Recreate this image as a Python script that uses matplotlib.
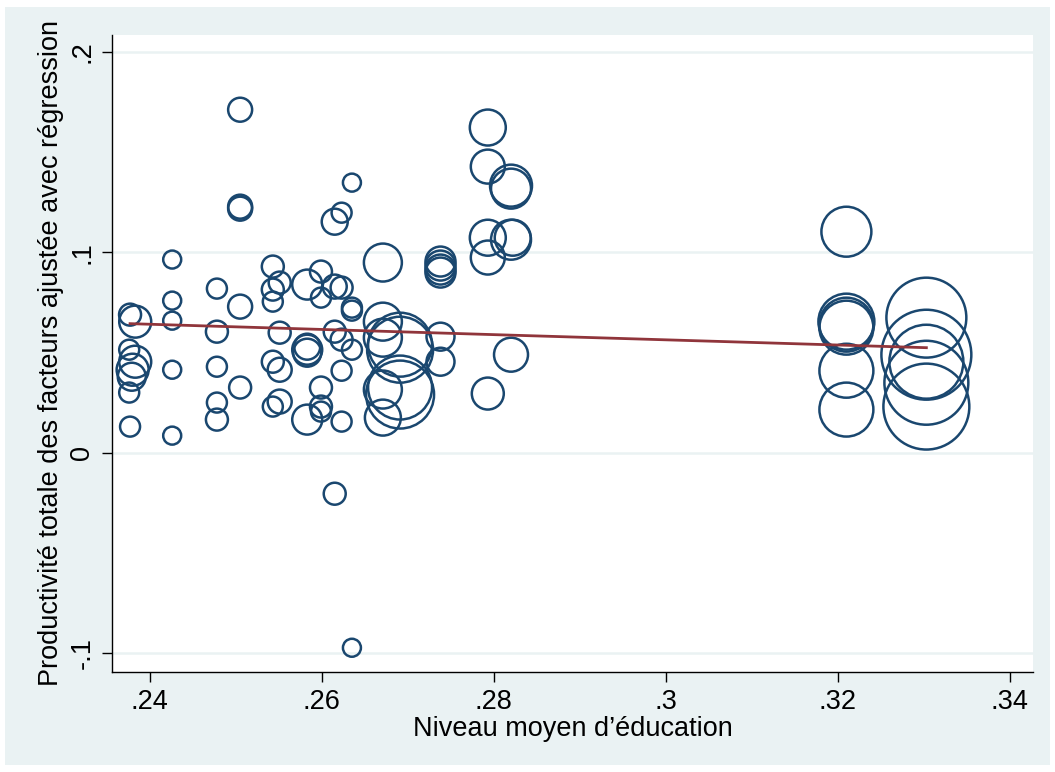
import numpy as np
import matplotlib.pyplot as plt
from matplotlib.patches import Rectangle

plt.rcParams['font.family'] = ['Liberation Sans', 'DejaVu Sans']

# niveau moyen d'éducation, productivité ajustée, poids de chaque observation
educ = [
    0.2377, 0.2383, 0.2376, 0.2383, 0.2380, 0.2379, 0.2376, 0.2377,
    0.2426, 0.2426, 0.2426, 0.2426, 0.2426,
    0.2478, 0.2478, 0.2478, 0.2478, 0.2478,
    0.2505, 0.2505, 0.2505, 0.2505, 0.2505,
    0.2543, 0.2551, 0.2543, 0.2543, 0.2551, 0.2543, 0.2551, 0.2543, 0.2551,
    0.2583, 0.2583, 0.2583, 0.2583, 0.2583,
    0.2599, 0.2599, 0.2599, 0.2599, 0.2599,
    0.2615, 0.2623, 0.2615, 0.2623, 0.2615, 0.2623, 0.2623, 0.2623, 0.2615,
    0.2635, 0.2635, 0.2635, 0.2635, 0.2635,
    0.2671, 0.2671, 0.2671, 0.2671, 0.2671,
    0.2691, 0.2691, 0.2691, 0.2691,
    0.2738, 0.2738, 0.2738, 0.2738, 0.2738, 0.2738,
    0.2793, 0.2793, 0.2793, 0.2793, 0.2793,
    0.2820, 0.2820, 0.2820, 0.2822, 0.2820,
    0.3210, 0.3210, 0.3210, 0.3210, 0.3210, 0.3210,
    0.3303, 0.3303, 0.3303, 0.3303, 0.3303,
]
ptf = [
    0.0689, 0.0654, 0.0514, 0.0454, 0.0414, 0.0379, 0.0300, 0.0130,
    0.0964, 0.0759, 0.0659, 0.0414, 0.0085,
    0.0819, 0.0604, 0.0429, 0.0250, 0.0165,
    0.1712, 0.1228, 0.1218, 0.0729, 0.0325,
    0.0929, 0.0849, 0.0814, 0.0754, 0.0599, 0.0454, 0.0414, 0.0230, 0.0255,
    0.0839, 0.0529, 0.0514, 0.0499, 0.0165,
    0.0904, 0.0774, 0.0325, 0.0230, 0.0205,
    0.1153, 0.1198, 0.0829, 0.0824, 0.0604, 0.0564, 0.0409, 0.0155, -0.0205,
    0.1348, 0.0724, 0.0709, 0.0514, -0.0974,
    0.0949, 0.0654, 0.0574, 0.0315, 0.0175,
    0.0539, 0.0514, 0.0325, 0.0290,
    0.0954, 0.0934, 0.0914, 0.0899, 0.0579, 0.0454,
    0.1623, 0.1428, 0.1073, 0.0974, 0.0295,
    0.1333, 0.1318, 0.1063, 0.1073, 0.0489,
    0.1103, 0.0654, 0.0639, 0.0624, 0.0409, 0.0215,
    0.0674, 0.0489, 0.0454, 0.0349, 0.0230,
]
poids = [
    1.21, 2.56, 1.00, 2.56, 2.56, 1.96, 1.00, 1.00,
    0.81, 0.81, 0.81, 0.81, 0.81,
    1.00, 1.21, 1.00, 1.00, 1.21,
    1.44, 1.44, 1.44, 1.44, 1.21,
    1.21, 1.21, 1.21, 1.00, 1.21, 1.21, 1.44, 1.00, 1.44,
    2.25, 1.69, 2.25, 1.96, 2.25,
    1.21, 1.00, 1.21, 1.21, 1.00,
    1.69, 1.00, 1.44, 1.21, 1.21, 1.21, 1.00, 1.00, 1.21,
    0.81, 1.00, 1.00, 1.00, 0.81,
    3.61, 3.61, 3.61, 3.61, 3.24,
    10.24, 10.89, 10.24, 11.56,
    2.25, 2.25, 2.25, 2.25, 1.96, 1.96,
    3.24, 2.89, 3.24, 2.89, 2.56,
    4.41, 4.00, 4.00, 3.24, 2.89,
    6.25, 7.84, 7.29, 7.29, 7.29, 7.29,
    16.00, 20.25, 13.69, 17.64, 18.49,
]

# droite de régression pondérée (extrémités)
fit_x = [0.2377, 0.3303]
fit_y = [0.0644, 0.0524]

bg = '#eaf2f3'
navy = '#1a476f'
maroon = '#90353b'

fig = plt.figure(figsize=(10.55, 7.72), dpi=100, facecolor='white')
fig.patches.append(Rectangle((5 / 1055, 7 / 772), 1045 / 1055, 758 / 772,
                             transform=fig.transFigure, facecolor=bg,
                             edgecolor='none', zorder=-10))
ax = fig.add_axes([112 / 1055, 100 / 772, 921 / 1055, 637 / 772])
ax.set_facecolor('white')

# taille de la bulle proportionnelle au poids
sizes = np.array(poids) * 207
ax.scatter(educ, ptf, s=sizes, facecolors='none', edgecolors=navy,
           linewidths=1.8, zorder=3)
ax.plot(fit_x, fit_y, color=maroon, linewidth=2.0, zorder=4)

ax.set_xlim(0.2356, 0.3427)
ax.set_ylim(-0.1095, 0.2085)

xt = [0.24, 0.26, 0.28, 0.30, 0.32, 0.34]
ax.set_xticks(xt)
ax.set_xticklabels(['.24', '.26', '.28', '.3', '.32', '.34'])
yt = [-0.1, 0, 0.1, 0.2]
ax.set_yticks(yt)
ax.set_yticklabels(['-.1', '0', '.1', '.2'], rotation=90, va='center')

ax.grid(axis='y', color=bg, linewidth=1.8, zorder=0)
ax.set_axisbelow(True)
for side in ['top', 'right']:
    ax.spines[side].set_visible(False)
for side in ['left', 'bottom']:
    ax.spines[side].set_linewidth(1.0)
ax.tick_params(axis='both', length=7, width=1.0, labelsize=19.5, pad=5)

ax.set_xlabel('Niveau moyen d\u2019éducation', fontsize=19.5, labelpad=1)
ax.set_ylabel('Productivité totale des facteurs ajustée avec régression',
              fontsize=19.5, labelpad=4)

fig.savefig('out.png', dpi=100, facecolor=fig.get_facecolor())
